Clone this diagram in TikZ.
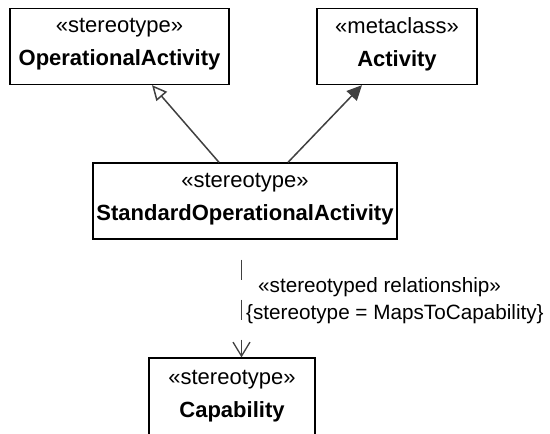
\documentclass[tikz,border=0pt]{standalone}
\usepackage{fontspec}
\setmainfont{Liberation Sans}
\usepackage{tikz}
\usetikzlibrary{arrows.meta}
\definecolor{edgegray}{HTML}{404040}
\tikzstyle{cls} = [rectangle, draw, line width=1.3pt, align=center, inner sep=0pt, minimum height=76pt, font=\fontsize{22}{33}\selectfont, execute at end node={\rule{0pt}{0pt}\raisebox{-8.5pt}{}}]
\tikzstyle{gen} = [draw=edgegray, line width=1.5pt, -{Triangle[open, length=15pt, width=14pt, fill=white]}]
\tikzstyle{assoc} = [draw=edgegray, line width=1.5pt, -{Triangle[length=15pt, width=14pt]}]
\tikzstyle{dep} = [draw=edgegray, line width=1.3pt, dash pattern=on 20pt off 20pt, dash phase=20pt, -{Straight Barb[length=14pt, width=17pt]}]
\tikzstyle{lbl} = [inner sep=0pt, font=\fontsize{20.7}{24}\selectfont]

\begin{document}
\begin{tikzpicture}
    [x=1pt, y=-1pt]
    \useasboundingbox (0,0) rectangle (550,434);
    \node[cls, minimum width=219pt] (oa) at (119.5,46.5) {«stereotype»\\\textbf{OperationalActivity}};
    \node[cls, minimum width=160pt] (act) at (397,46.5) {«metaclass»\\\textbf{Activity}};
    \node[cls, minimum width=304pt] (soa) at (245,201) {«stereotype»\\\textbf{StandardOperationalActivity}};
    \node[cls, minimum width=166pt, minimum height=80pt] (cap) at (232,398) {«stereotype»\\\textbf{Capability}};
    % generalization and association
    \draw[gen] ([xshift=-26pt]soa.north) -- ([xshift=32.5pt]oa.south);
    \draw[assoc] ([xshift=43pt]soa.north) -- ([xshift=-35pt]act.south);
    % stereotyped dependency
    \draw[dep] ([xshift=-3.5pt]soa.south) -- ([xshift=-3.5pt]soa.south |- cap.north);
    \node[lbl, anchor=base west] (rel) at (258,292) {«stereotyped relationship»};
    \node[lbl, anchor=base west] (tag) at (246,319) {\{stereotype = MapsToCapability\}};
\end{tikzpicture}
\end{document}
